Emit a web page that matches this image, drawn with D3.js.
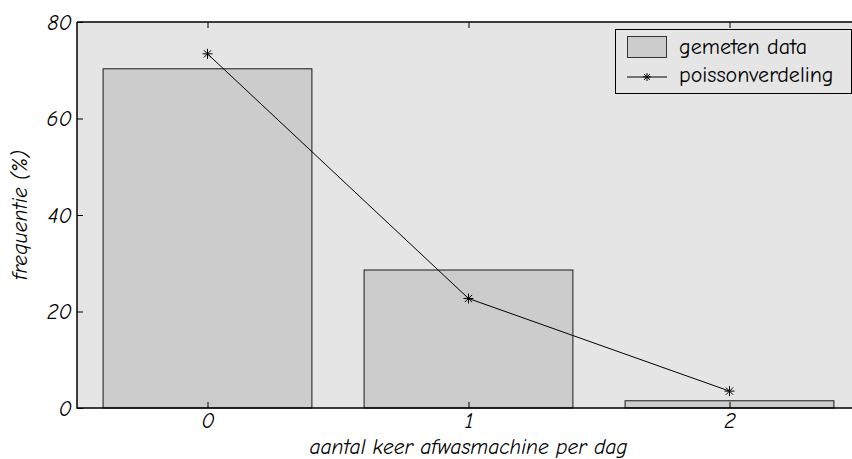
<!DOCTYPE html>
<html>
<head>
<meta charset="utf-8">
<script src="https://cdn.jsdelivr.net/npm/d3@7"></script>
<style>
  html, body { margin: 0; padding: 0; background: #fff; }
  svg { display: block; }
  text { font-family: "Comic Sans MS", "Comic Neue", "DejaVu Sans", sans-serif; fill: #000; }
</style>
</head>
<body>
<svg id="chart" width="852" height="459"></svg>
<script>
// Number of times the dishwasher runs per day
const categories = [0, 1, 2];
// Measured frequency (%)
const measured = [70.3, 28.6, 1.5];
// Poisson distribution (%)
const poisson = [73.4, 22.7, 3.5];
const yTicks = [0, 20, 40, 60, 80];
const legendLabels = ["gemeten data", "poissonverdeling"];
const xTitle = "aantal keer afwasmachine per dag";
const yTitle = "frequentie (%)";

const svg = d3.select("#chart");
const plotLeft = 77, plotTop = 22, plotBottom = 408, plotRight = 860;
const fontFam = '"Comic Sans MS", "Comic Neue", "DejaVu Sans", sans-serif';
const tickFont = 22, titleFont = 21.5, legendFont = 22;

const x = d3.scaleLinear().domain([-0.5, 2.5]).range([plotLeft, plotRight]);
const y = d3.scaleLinear().domain([0, 80]).range([plotBottom, plotTop]);

// plot background
svg.append("rect")
  .attr("x", plotLeft).attr("y", plotTop)
  .attr("width", plotRight - plotLeft).attr("height", plotBottom - plotTop)
  .attr("fill", "#e5e5e5");

// bars
const barW = 0.8;
svg.append("g").selectAll("rect")
  .data(categories)
  .join("rect")
  .attr("x", (d) => x(d - barW / 2))
  .attr("y", (d, i) => y(measured[i]))
  .attr("width", (d) => x(d + barW / 2) - x(d - barW / 2))
  .attr("height", (d, i) => y(0) - y(measured[i]))
  .attr("fill", "#cccccc")
  .attr("stroke", "#1a1a1a")
  .attr("stroke-width", 1);

// poisson line
const line = d3.line().x((d, i) => x(categories[i])).y((d) => y(d));
svg.append("path")
  .datum(poisson)
  .attr("d", line)
  .attr("fill", "none")
  .attr("stroke", "#000")
  .attr("stroke-width", 1);

function star(g, cx, cy, r) {
  const s = r * 0.72;
  const segs = [[-r, 0, r, 0], [0, -r, 0, r], [-s, -s, s, s], [-s, s, s, -s]];
  g.append("g").selectAll("line").data(segs).join("line")
    .attr("x1", (d) => cx + d[0]).attr("y1", (d) => cy + d[1])
    .attr("x2", (d) => cx + d[2]).attr("y2", (d) => cy + d[3])
    .attr("stroke", "#000").attr("stroke-width", 1);
}
poisson.forEach((v, i) => star(svg, x(categories[i]), y(v), 5));

// axes frame
svg.append("path")
  .attr("d", `M${plotLeft},${plotTop}H${plotRight}M${plotLeft},${plotTop}V${plotBottom}H${plotRight}`)
  .attr("fill", "none").attr("stroke", "#000").attr("stroke-width", 1.5);

// y axis ticks and labels
const yAxis = d3.axisLeft(y).tickValues(yTicks).tickSize(-6).tickPadding(5).tickFormat(d3.format("d"));
const gy = svg.append("g").attr("transform", `translate(${plotLeft},0)`).call(yAxis);
gy.select(".domain").remove();
gy.selectAll(".tick line").attr("stroke", "#000");
gy.selectAll(".tick text")
  .attr("font-size", tickFont).attr("font-style", "italic")
  .attr("font-family", fontFam).attr("fill", "#000");

// x axis labels
const xAxis = d3.axisBottom(x).tickValues(categories).tickSize(0).tickPadding(4).tickFormat(d3.format("d"));
const gx = svg.append("g").attr("transform", `translate(0,${plotBottom})`).call(xAxis);
gx.select(".domain").remove();
gx.selectAll(".tick text")
  .attr("font-size", tickFont).attr("font-style", "italic")
  .attr("font-family", fontFam).attr("fill", "#000");
// top ticks pointing down
const xTop = d3.axisTop(x).tickValues(categories).tickSize(-6).tickFormat("");
const gxt = svg.append("g").attr("transform", `translate(0,${plotTop})`).call(xTop);
gxt.select(".domain").remove();
gxt.selectAll(".tick line").attr("stroke", "#000");
// bottom ticks pointing up
const xBot = d3.axisBottom(x).tickValues(categories).tickSize(-6).tickFormat("");
const gxb = svg.append("g").attr("transform", `translate(0,${plotBottom})`).call(xBot);
gxb.select(".domain").remove();
gxb.selectAll(".tick line").attr("stroke", "#000");

// axis titles
svg.append("text")
  .attr("x", x(1)).attr("y", 454)
  .attr("text-anchor", "middle")
  .attr("font-size", titleFont).attr("font-style", "italic")
  .text(xTitle);
svg.append("text")
  .attr("transform", `translate(27,${(plotTop + plotBottom) / 2}) rotate(-90)`)
  .attr("text-anchor", "middle")
  .attr("font-size", titleFont).attr("font-style", "italic")
  .text(yTitle);

// legend
const lg = svg.append("g");
lg.append("rect")
  .attr("x", 615.5).attr("y", 29.5).attr("width", 236).attr("height", 64)
  .attr("fill", "#e5e5e5").attr("stroke", "#000").attr("stroke-width", 1);
lg.append("rect")
  .attr("x", 627.5).attr("y", 36.5).attr("width", 39).attr("height", 21)
  .attr("fill", "#cccccc").attr("stroke", "#333").attr("stroke-width", 1);
lg.append("line")
  .attr("x1", 627).attr("x2", 667).attr("y1", 77).attr("y2", 77)
  .attr("stroke", "#000").attr("stroke-width", 1);
star(lg, 647, 77, 4);
lg.append("text").attr("x", 679).attr("y", 54)
  .attr("font-size", legendFont).text(legendLabels[0]);
lg.append("text").attr("x", 679).attr("y", 82)
  .attr("font-size", legendFont).text(legendLabels[1]);
</script>
</body>
</html>
